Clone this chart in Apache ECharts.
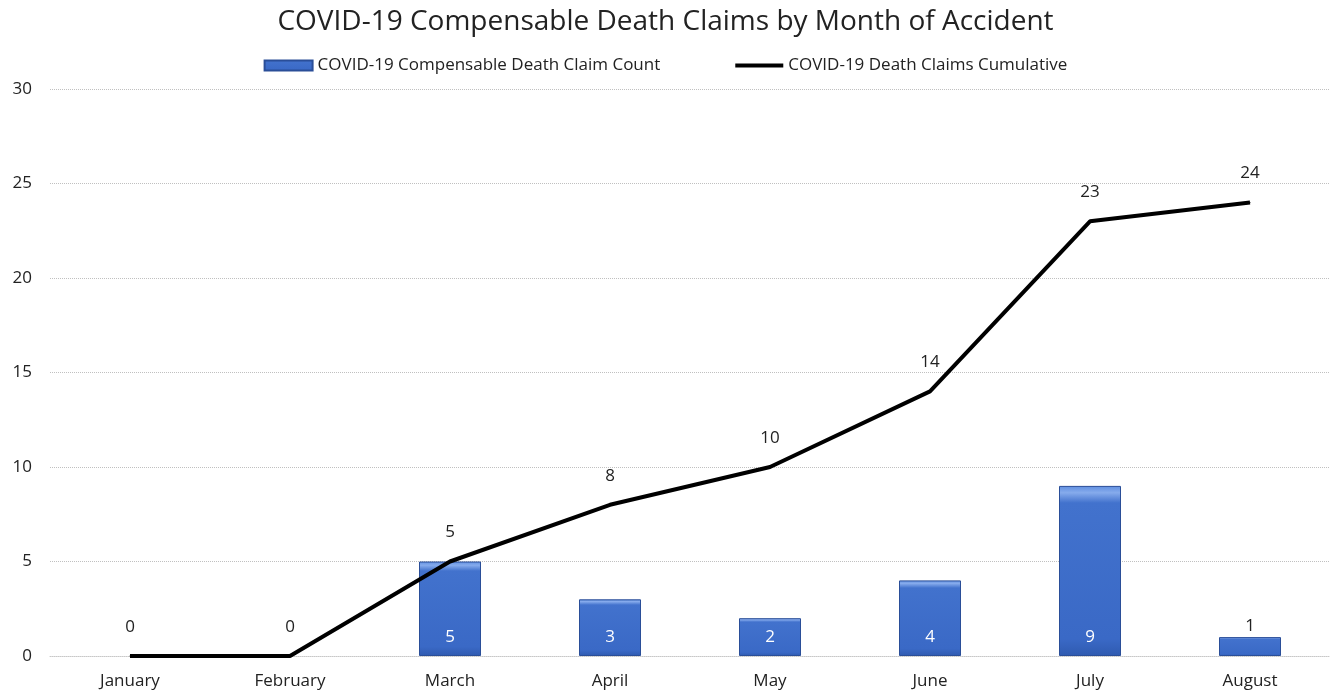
<!DOCTYPE html>
<html>
<head>
<meta charset="utf-8">
<script src="https://cdn.jsdelivr.net/npm/echarts@6/dist/echarts.min.js"></script>
<style>
  html, body { margin: 0; padding: 0; background: #fff; }
  #main { width: 1331px; height: 698px; }
</style>
</head>
<body>
<div id="main"></div>
<script>
var myChart = echarts.init(document.getElementById('main'));

// 数据
var months = ['January', 'February', 'March', 'April', 'May', 'June', 'July', 'August'];
var claimCount = [0, 0, 5, 3, 2, 4, 9, 1];
var cumulative = [0, 0, 5, 8, 10, 14, 23, 24];

var font = '"Open Sans", "Noto Sans", sans-serif';

// 柱子的渐变色（顶部有一点斜面高光）
var barColor = new echarts.graphic.LinearGradient(0, 0, 0, 1, [
    { offset: 0, color: '#5f8ee0' },
    { offset: 0.04, color: '#86abec' },
    { offset: 0.1, color: '#4272cd' },
    { offset: 0.9, color: '#3a69c6' },
    { offset: 1, color: '#2f5ab0' }
]);

var barData = claimCount.map(function (v) {
    if (v === 0) {
        return '-'; // 0 不画柱子
    }
    if (v === 1) { // 太矮，标签放在上面
        return { value: v, label: { position: 'top', color: '#222', distance: 2 } };
    }
    return v;
});

option = {
    title: {
        text: 'COVID-19 Compensable Death Claims by Month of Accident',
        left: 'center',
        top: 3,
        textStyle: { fontFamily: font, fontSize: 28, fontWeight: 'normal', color: '#222' }
    },
    legend: {
        top: 52,
        left: 'center',
        itemGap: 75,
        itemWidth: 48,
        itemHeight: 10,
        textStyle: { fontFamily: font, fontSize: 17, color: '#222' },
        data: [
            { name: 'COVID-19 Compensable Death Claim Count', icon: 'rect' },
            { name: 'COVID-19 Death Claims Cumulative', icon: 'path://M0,0 L48,0 L48,4 L0,4 Z' }
        ]
    },
    grid: {
        left: 50,
        right: 1,
        top: 89,
        bottom: 42
    },
    xAxis: {
        type: 'category',
        data: months,
        axisLine: { show: true, lineStyle: { color: '#c8c8c8', type: 'dotted' } },
        axisTick: { show: false },
        axisLabel: { fontFamily: font, fontSize: 17, color: '#222', margin: 17 }
    },
    yAxis: {
        type: 'value',
        min: 0,
        max: 30,
        interval: 5,
        axisLine: { show: false },
        axisTick: { show: false },
        axisLabel: { fontFamily: font, fontSize: 17, color: '#222', margin: 18 },
        splitLine: { lineStyle: { color: '#c0c0c0', type: 'dotted' } }
    },
    series: [
        {
            name: 'COVID-19 Compensable Death Claim Count',
            type: 'bar',
            barWidth: 62,
            itemStyle: {
                color: barColor,
                borderColor: '#2a4e98',
                borderWidth: 1
            },
            label: {
                show: true,
                position: 'insideBottom',
                distance: 10,
                color: '#fff',
                fontFamily: font,
                fontSize: 17
            },
            data: barData
        },
        {
            name: 'COVID-19 Death Claims Cumulative',
            type: 'line',
            symbol: 'circle',
            symbolSize: 1,
            lineStyle: { color: '#000', width: 4 },
            itemStyle: { color: '#000' },
            label: {
                show: true,
                position: 'top',
                distance: 20,
                color: '#222',
                fontFamily: font,
                fontSize: 17
            },
            data: cumulative
        }
    ]
};

myChart.setOption(option);
</script>
</body>
</html>
